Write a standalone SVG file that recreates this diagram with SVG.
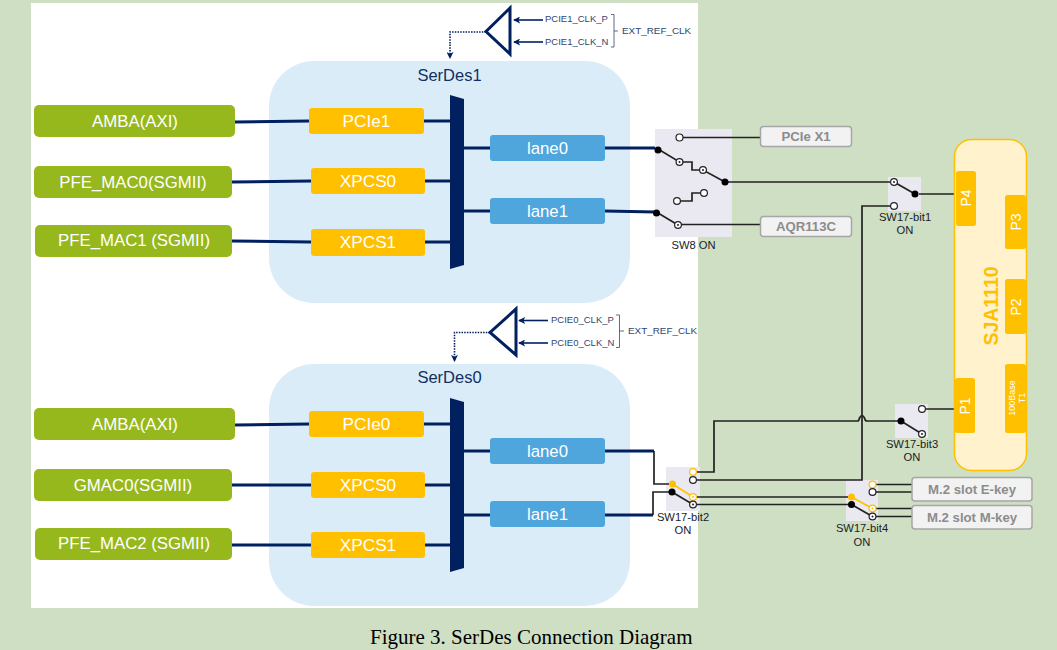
<svg xmlns="http://www.w3.org/2000/svg" width="1057" height="650" viewBox="0 0 1057 650">
<style>
text{font-family:"Liberation Sans",Arial,sans-serif}
.g{fill:#97b81d}.gt{fill:#fff;font-size:16.800px;text-anchor:middle}
.sd{fill:#dbecf9}.sdt{fill:#12305f;font-size:16.500px;text-anchor:middle}
.y{fill:#ffc000}.yt{fill:#fff;font-size:17.200px;text-anchor:middle}
.l{fill:#4ea6dc}.bus{fill:#002060}
.nv{stroke:#002060;stroke-width:3;fill:none}
.nt{stroke:#002060;stroke-width:1.600;fill:none}
.w{stroke:#222;stroke-width:1.700;fill:none}
.wy{stroke:#ffc000;stroke-width:1.600;fill:none}
.sw{fill:#eae8f0}
.c{fill:#fff;stroke:#222;stroke-width:1.200}
.cy{fill:#fff;stroke:#ffc000;stroke-width:1.200}
.d{fill:#000}.dy{fill:#ffc000}
.st{fill:#1a1a2a;font-size:11.200px;text-anchor:middle}
.cl{fill:#34456f;font-size:9.500px}
.gb{fill:#f2f2f2;stroke:#a6a6a6;stroke-width:1.500}
.gbt{fill:#8c8c8c;font-size:13.200px;font-weight:bold;text-anchor:middle}
.pt{fill:#fff;font-size:14px;text-anchor:middle}
</style>
<defs>
<marker id="a" viewBox="0 0 8 8" refX="7" refY="4" markerWidth="7" markerHeight="7" markerUnits="userSpaceOnUse" orient="auto"><path d="M0 0L8 4L0 8L2 4Z" fill="#002060"/></marker>
<g id="t"><circle r="3.400" class="c"/><circle r="1" fill="#222"/></g>
<g id="ty"><circle r="3.400" class="cy"/><circle r="1" fill="#ffc000"/></g>
</defs>
<rect width="1057" height="650" fill="#cfdfc3"/>
<rect x="31" y="3" width="667" height="605" fill="#fff"/>
<g id="serdes1"><rect x="269" y="61" width="361" height="242" rx="45" class="sd"/><text x="449.500" y="81" class="sdt">SerDes1</text></g>
<g id="serdes0"><rect x="269" y="364" width="361" height="242" rx="45" class="sd"/><text x="449.500" y="383" class="sdt">SerDes0</text></g>
<g id="sw-backgrounds"><rect x="655" y="129" width="77" height="108" class="sw"/><rect x="888" y="177" width="33" height="34" class="sw"/><rect x="895" y="404" width="33" height="34" class="sw"/><rect x="666" y="467" width="34" height="44" class="sw"/><rect x="846" y="480" width="32" height="41" class="sw"/></g>
<g id="connectors">
<path class="nv" d="M235 122L309 121M232 182L311 181M232 241L311 242M424 121L450 121M425 181L450 181M425 242L450 242M464 148L490 148M464 211L490 211M605 148L655 148M605 211L655 212"/>
<path class="nv" d="M235 425L309 424M232 485L311 485M232 545L311 545M424 424L450 424M425 485L450 485M425 545L450 545M464 451L490 451M464 515L490 515M605 451L654 451M605 515L653 515"/>
<path class="nt" d="M543 20H514" marker-end="url(#a)"/><path class="nt" d="M543 42H514" marker-end="url(#a)"/>
<path class="nt" d="M548 320.500H519" marker-end="url(#a)"/><path class="nt" d="M548 343H519" marker-end="url(#a)"/>
<path class="nt" stroke-dasharray="1.500 1.200" d="M486 32H450V58" marker-end="url(#a)"/>
<path class="nt" stroke-dasharray="1.500 1.200" d="M490 332.500H454.500V361" marker-end="url(#a)"/>
<path stroke="#34456f" stroke-width=".8" fill="none" d="M611 14.500H614V47H611M614 31H618M616 315H619.500V347.500H616M619.500 331H624"/>
<path class="w" d="M683 137.500H760M681 224.500H760M725 182H890M919 194H955M890.500 206H862V480H696.500M926 409H955"/>
<path class="w" d="M654 451V484H669M653 515V492H672M696.500 472H714V421H857.500Q859 421 859.500 418Q862 413 864.500 418Q865 421 867 421H901"/>
<path class="w" d="M696.500 497H848M696.500 504.500H851M876 484.500H912M876 492H912M876 508.500H912M876 516.500H912"/>
</g>
<g id="amba1"><rect x="34" y="105" width="201" height="32" rx="5" class="g"/><text x="135" y="127" class="gt">AMBA(AXI)</text></g>
<g id="pfe-mac0"><rect x="34" y="166" width="198" height="32" rx="5" class="g"/><text x="133" y="188" class="gt">PFE_MAC0(SGMII)</text></g>
<g id="pfe-mac1"><rect x="35" y="225" width="197" height="32" rx="5" class="g"/><text x="134" y="246" class="gt">PFE_MAC1 (SGMII)</text></g>
<g id="amba0"><rect x="34" y="408" width="201" height="32" rx="5" class="g"/><text x="135" y="430" class="gt">AMBA(AXI)</text></g>
<g id="gmac0"><rect x="34" y="469" width="198" height="32" rx="5" class="g"/><text x="133" y="491" class="gt">GMAC0(SGMII)</text></g>
<g id="pfe-mac2"><rect x="35" y="528" width="197" height="32" rx="5" class="g"/><text x="134" y="549" class="gt">PFE_MAC2 (SGMII)</text></g>
<g id="pcie1"><rect x="309" y="108" width="115" height="26" rx="3" class="y"/><text x="366.500" y="127" class="yt">PCIe1</text></g>
<g id="xpcs0-1"><rect x="311" y="168" width="114" height="26" rx="3" class="y"/><text x="368" y="187" class="yt">XPCS0</text></g>
<g id="xpcs1-1"><rect x="311" y="229" width="114" height="27" rx="3" class="y"/><text x="368" y="248" class="yt">XPCS1</text></g>
<g id="pcie0"><rect x="309" y="411" width="115" height="26" rx="3" class="y"/><text x="366.500" y="430" class="yt">PCIe0</text></g>
<g id="xpcs0-0"><rect x="311" y="472" width="114" height="26" rx="3" class="y"/><text x="368" y="491" class="yt">XPCS0</text></g>
<g id="xpcs1-0"><rect x="311" y="532" width="114" height="26" rx="3" class="y"/><text x="368" y="551" class="yt">XPCS1</text></g>
<g id="bus1"><path class="bus" d="M450 95L464 99V265L450 269Z"/></g>
<g id="bus0"><path class="bus" d="M450 398L464 402V568L450 572Z"/></g>
<g id="lane0-1"><rect x="490" y="135" width="115" height="26" rx="3" class="l"/><text x="547.500" y="154" class="yt" style="font-size:16.800px">lane0</text></g>
<g id="lane1-1"><rect x="490" y="198" width="115" height="26" rx="3" class="l"/><text x="547.500" y="217" class="yt" style="font-size:16.800px">lane1</text></g>
<g id="lane0-0"><rect x="490" y="438" width="115" height="26" rx="3" class="l"/><text x="547.500" y="457" class="yt" style="font-size:16.800px">lane0</text></g>
<g id="lane1-0"><rect x="490" y="501" width="115" height="26" rx="3" class="l"/><text x="547.500" y="520" class="yt" style="font-size:16.800px">lane1</text></g>
<g id="clk1"><path d="M510 8V54L486 31.500Z" fill="none" stroke="#002060" stroke-width="3"/><text x="545" y="22" class="cl">PCIE1_CLK_P</text><text x="545" y="45" class="cl">PCIE1_CLK_N</text><text x="622" y="34" class="cl" style="font-size:9.900px">EXT_REF_CLK</text></g>
<g id="clk0"><path d="M516 309V355L490 332.500Z" fill="none" stroke="#002060" stroke-width="3"/><text x="551" y="323" class="cl">PCIE0_CLK_P</text><text x="551" y="346" class="cl">PCIE0_CLK_N</text><text x="628" y="334" class="cl" style="font-size:9.900px">EXT_REF_CLK</text></g>
<g id="sw8">
<path class="w" d="M658 149L679.500 162H692V170H703L725 182M658 213L678 225M679.500 201H692V193H703"/>
<circle cx="679.500" cy="137.500" r="3.500" class="c"/><circle cx="677" cy="201" r="3.400" class="c"/><circle cx="704" cy="193" r="3.400" class="c"/>
<use href="#t" x="679.500" y="162"/><use href="#t" x="703" y="170"/><use href="#t" x="678" y="225"/>
<circle cx="658" cy="150" r="3.500" class="d"/><circle cx="725" cy="182" r="3.500" class="d"/><circle cx="656.500" cy="213" r="3.500" class="d"/>
<text x="693.500" y="249" class="st">SW8 ON</text></g>
<g id="pcie-x1"><rect x="760.500" y="126.500" width="91" height="20" rx="3" class="gb"/><text x="806" y="141" class="gbt">PCIe X1</text></g>
<g id="aqr113c"><rect x="760.500" y="216.500" width="91" height="20" rx="3" class="gb"/><text x="806" y="231" class="gbt">AQR113C</text></g>
<g id="sw17-bit1"><path class="w" d="M894 182L915 194"/><use href="#t" x="894" y="182"/><circle cx="894" cy="206" r="3.400" class="c"/><circle cx="915" cy="194" r="3.500" class="d"/><text x="905" y="221" class="st">SW17-bit1</text><text x="905" y="234" class="st">ON</text></g>
<g id="sw17-bit3"><path class="w" d="M901 421L922 434"/><circle cx="922" cy="409" r="3.400" class="c"/><use href="#t" x="922" y="434"/><circle cx="901" cy="421" r="3.500" class="d"/><text x="912" y="448" class="st">SW17-bit3</text><text x="912" y="461" class="st">ON</text></g>
<g id="sw17-bit2"><path class="wy" d="M672.500 484L693 497"/><path class="w" d="M672 492L693 504.500"/><circle cx="693" cy="472" r="3.400" class="cy"/><circle cx="693" cy="480" r="3.400" class="c"/><use href="#ty" x="693" y="497"/><use href="#t" x="693" y="504.500"/><circle cx="672.500" cy="484" r="3.500" class="dy"/><circle cx="672" cy="492" r="3.500" class="d"/><text x="683" y="521" class="st">SW17-bit2</text><text x="683" y="534" class="st">ON</text></g>
<g id="sw17-bit4"><path class="wy" d="M851.500 497L872.500 508.500"/><path class="w" d="M851.500 504.500L872.500 516.500"/><circle cx="872.500" cy="484.500" r="3.400" class="cy"/><circle cx="872.500" cy="492" r="3.400" class="c"/><use href="#ty" x="872.500" y="508.500"/><use href="#t" x="872.500" y="516.500"/><circle cx="851.500" cy="497" r="3.500" class="dy"/><circle cx="851.500" cy="504.500" r="3.500" class="d"/><text x="862" y="532" class="st">SW17-bit4</text><text x="862" y="546" class="st">ON</text></g>
<g id="m2-e"><rect x="912" y="477.500" width="120" height="23.500" rx="3" class="gb"/><text x="972" y="494" class="gbt">M.2 slot E-key</text></g>
<g id="m2-m"><rect x="912" y="505.500" width="120" height="23.500" rx="3" class="gb"/><text x="972" y="522" class="gbt">M.2 slot M-key</text></g>
<g id="sja1110"><rect x="954.500" y="139.500" width="72" height="331" rx="17" fill="#fff2cc" stroke="#ffc000" stroke-width="1.500"/>
<text transform="translate(998 306) rotate(-90)" x="0" y="0" style="font-size:19.500px;font-weight:bold;fill:#ffc000;text-anchor:middle">SJA1110</text></g>
<g id="p4"><rect x="956" y="171" width="20" height="55" rx="2.500" class="y"/><text transform="translate(971 198) rotate(-90)" class="pt">P4</text></g>
<g id="p3"><rect x="1005" y="195" width="21" height="54" rx="2.500" class="y"/><text transform="translate(1021 222) rotate(-90)" class="pt">P3</text></g>
<g id="p2"><rect x="1005" y="279" width="21" height="55" rx="2.500" class="y"/><text transform="translate(1021 307) rotate(-90)" class="pt">P2</text></g>
<g id="t1"><rect x="1005" y="364" width="21" height="69" rx="2.500" class="y"/><text transform="translate(1014.500 398) rotate(-90)" style="fill:#fff;font-size:9px;text-anchor:middle">100Base</text><text transform="translate(1024.500 398) rotate(-90)" style="fill:#fff;font-size:9px;text-anchor:middle">T1</text></g>
<g id="p1"><rect x="955" y="378" width="20" height="55" rx="2.500" class="y"/><text transform="translate(970 406) rotate(-90)" class="pt">P1</text></g>
<text x="370" y="644" style="font-family:'Liberation Serif',serif;font-size:21px;fill:#000">Figure 3. SerDes Connection Diagram</text>
</svg>
